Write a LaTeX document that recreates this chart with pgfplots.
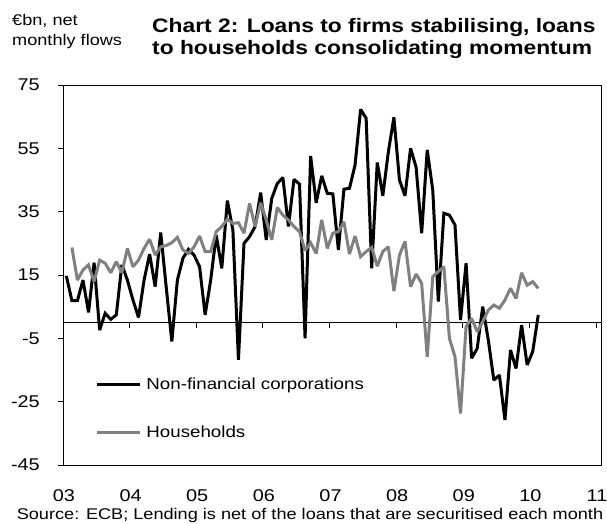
\documentclass[border=0pt]{standalone}
\usepackage{pgfplots}
\pgfplotsset{compat=1.18}
\usepackage{pgfplotstable}
\usepackage{fontspec}
\setmainfont{Liberation Sans}[FakeStretch=1.17]

\definecolor{hhgray}{RGB}{128,128,128}

% monthly flows, EUR bn; k = months since Jan 2003
\pgfplotstableread{
k  nfc   hh
0  14.7  nan
1  6.9   23.7
2  6.9   13.4
3  13.4  16.6
4  3.2   18.2
5  18.9  12.9
6  -2.4  19.7
7  2.9   18.7
8  1.0   15.7
9  2.4   19.2
10 18.2  15.7
11 13.4  23.4
12 7.1   17.6
13 1.6   19.7
14 13.4  23.4
15 21.6  26.3
16 11.3  21.3
17 28.4  23.9
18 11.0  24.3
19 -6.0  25.2
20 13.4  26.9
21 20.3  22.9
22 23.1  21.8
23 21.3  23.9
24 17.6  27.3
25 2.4   22.4
26 13.4  22.4
27 27.6  28.7
28 17.1  30.3
29 38.5  32.6
30 29.2  31.3
31 -11.8 31.5
32 25.0  28.2
33 27.1  37.6
34 30.3  30.3
35 41.0  37.8
36 26.1  32.4
37 39.2  26.1
38 43.9  36.3
39 45.8  33.9
40 30.3  32.4
41 45.2  30.3
42 43.7  28.7
43 -5.0  22.7
44 52.6  25.2
45 37.8  21.8
46 46.3  32.4
47 40.8  23.4
48 40.6  28.2
49 22.9  28.7
50 42.1  31.8
51 42.4  21.6
52 49.7  27.3
53 67.3  20.8
54 64.5  22.4
55 17.1  23.7
56 50.5  17.8
57 40.0  22.4
58 53.9  23.9
59 64.8  9.9
60 45.0  21.3
61 40.0  25.6
62 55.0  11.3
63 49.0  15.3
64 28.2  12.4
65 54.5  -10.8
66 41.8  14.5
67 6.6   16.1
68 34.5  17.6
69 33.9  -5.0
70 30.8  -10.8
71 0.8   -28.7
72 18.7  -1.3
73 -11.3 1.3
74 -8.2  -2.9
75 5.0   0.3
76 -5.5  3.9
77 -18.2 5.5
78 -16.6 4.5
79 -30.8 7.1
80 -8.7  10.8
81 -14.5 7.6
82 -0.8  15.7
83 -13.4 11.8
84 -9.2  12.9
85 2.4   10.8
}\loans

\begin{document}
\begin{tikzpicture}
\path[use as bounding box] (0pt,0pt) rectangle (607pt,523pt);

\node[anchor=north west, align=left, inner sep=0pt,
      font=\fontsize{15.5}{20}\selectfont] at (12pt,509pt) {€bn, net\\monthly flows};
\node[anchor=north west, align=left, inner sep=0pt,
      font=\fontsize{19.5}{22}\selectfont\bfseries] at (152pt,505pt)
  {Chart 2: Loans to firms stabilising, loans\\to households consolidating momentum};
\node[anchor=base, inner sep=0pt, font=\fontsize{15.5}{18}\selectfont] at (310pt,3.5pt)
  {Source: ECB; Lending is net of the loans that are securitised each month};

\begin{axis}[
  at={(63pt,58pt)}, anchor=south west,
  scale only axis, width=538pt, height=380pt,
  xmin=0, xmax=96.9, ymin=-45, ymax=75,
  xtick={0,12,...,96},
  xticklabels={03,04,05,06,07,08,09,10,11},
  x tick style={draw=none},
  ytick={-45,-25,...,75},
  ytick pos=left, tick align=outside, major tick length=5pt,
  axis line style={line width=0.8pt},
  every tick/.style={black, line width=0.8pt},
  /pgf/number format/assume math mode=true,
  tick label style={font=\fontsize{17}{20}\selectfont, inner sep=0pt},
  yticklabel style={anchor=east, xshift=-18pt},
  xticklabel style={anchor=base, yshift=-31pt, xshift=1pt},
  legend cell align=left,
  legend image code/.code={\draw[#1] (0pt,0pt) -- (43pt,0pt);},
  legend style={draw=none, fill=none, inner sep=0pt,
    at={(axis description cs:0.06,0.234)}, anchor=north west,
    font=\fontsize{16}{19}\selectfont,
    nodes={inner sep=2pt}, row sep=30.5pt,
    /tikz/every odd column/.style={column sep=3pt}},
  every axis plot/.append style={line width=3pt, miter limit=2},
]
\draw[line width=1.3pt] (axis cs:0,0) -- (axis cs:96.9,0);
\pgfplotsinvokeforeach{12,24,36,48,60,72,84,96}{
  \draw[line width=0.8pt] (axis cs:#1,0) -- ([yshift=-5pt]axis cs:#1,0);
}
\addplot[black] table[x expr=\thisrow{k}+0.6, y=nfc] {\loans};
\addlegendentry{Non-financial corporations}
\addplot[hhgray] table[x expr=\thisrow{k}+0.6, y=hh] {\loans};
\addlegendentry{Households}
\end{axis}
\end{tikzpicture}
\end{document}
